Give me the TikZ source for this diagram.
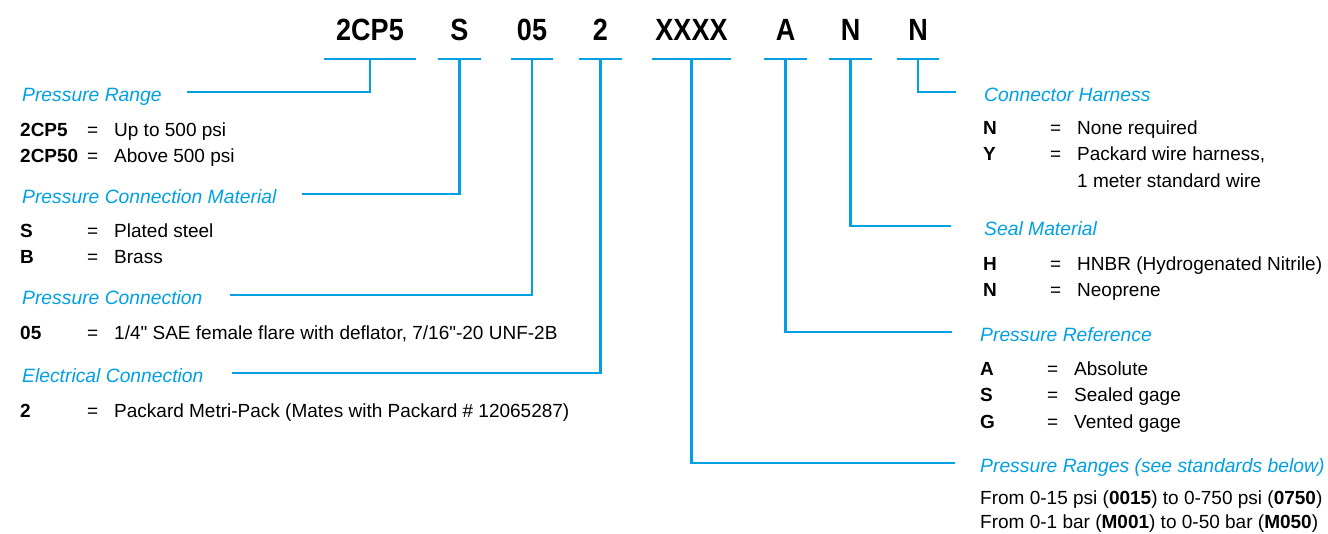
\documentclass[tikz,border=0pt]{standalone}
\usepackage{fontspec}
\setmainfont{Liberation Sans}[Ligatures=TeXOff]
\newfontfamily\codefont[FakeStretch=0.88]{Liberation Sans}
\usetikzlibrary{positioning}
\definecolor{legblue}{RGB}{0,160,227}
\newcommand{\opttab}[1]{\begin{tabular}[t]{@{}p{67pt}@{}p{27pt}@{}l@{}}#1\end{tabular}}

\begin{document}
\begin{tikzpicture}[
    x=1pt, y=-1pt,
    code/.style={
        font=\codefont\bfseries\fontsize{30.7}{36}\selectfont,
        inner sep=0,
        text height=22pt,
        text depth=19pt,
        anchor=base
    },
    head/.style={
        font=\fontsize{19.3}{23}\selectfont\itshape,
        text=legblue,
        inner sep=0,
        text height=18pt,
        text depth=0pt,
        anchor=base west
    },
    opts/.style={
        font=\fontsize{19}{26.5}\selectfont,
        inner sep=0,
        anchor=base west
    },
    lead/.style={draw=legblue, line width=2.4pt}
]
\useasboundingbox (0,0) rectangle (1328,533);

% Part number
\node (c1) [code, minimum width=92pt] at (370,40) {2CP5};
\node (c2) [code, minimum width=43pt] at (459.5,40) {S};
\node (c3) [code, minimum width=42pt] at (532,40) {05};
\node (c4) [code, minimum width=43pt] at (600.5,40) {2};
\node (c5) [code, minimum width=79pt] at (691.5,40) {XXXX};
\node (c6) [code, minimum width=43pt] at (785.5,40) {A};
\node (c7) [code, minimum width=43pt] at (850.5,40) {N};
\node (c8) [code, minimum width=42pt] at (918,40) {N};

% Left column
\node (h1) [head] at (22,101) {Pressure Range};
\node (o1) [opts] at (20,136) {\opttab{\textbf{2CP5} & = & Up to 500 psi\\ \textbf{2CP50} & = & Above 500 psi}};

\node (h2) [head] at (22,203) {Pressure Connection Material};
\node (o2) [opts] at (20,237) {\opttab{\textbf{S} & = & Plated steel\\ \textbf{B} & = & Brass}};

\node (h3) [head] at (22,304) {Pressure Connection};
\node (o3) [opts] at (20,339) {\opttab{\textbf{05} & = & 1/4" SAE female flare with deflator, 7/16"-20 UNF-2B}};

\node (h4) [head] at (22,382) {Electrical Connection};
\node (o4) [opts] at (20,417) {\opttab{\textbf{2} & = & Packard Metri-Pack (Mates with Packard \# 12065287)}};

% Right column
\node (h5) [head] at (984,101) {Connector Harness};
\node (o5) [opts] at (983,134) {\opttab{\textbf{N} & = & None required\\ \textbf{Y} & = & Packard wire harness,\\ & & 1 meter standard wire}};

\node (h6) [head] at (984,235) {Seal Material};
\node (o6) [opts] at (983,270) {\opttab{\textbf{H} & = & HNBR (Hydrogenated Nitrile)\\ \textbf{N} & = & Neoprene}};

\node (h7) [head] at (980,341) {Pressure Reference};
\node (o7) [opts] at (980,375) {\opttab{\textbf{A} & = & Absolute\\ \textbf{S} & = & Sealed gage\\ \textbf{G} & = & Vented gage}};

\node (h8) [head] at (980,472) {Pressure Ranges (see standards below)};
\node (o8) [opts, font=\fontsize{19}{24}\selectfont] at (980,504) {\begin{tabular}[t]{@{}l@{}}From 0-15 psi (\textbf{0015}) to 0-750 psi (\textbf{0750})\\ From 0-1 bar (\textbf{M001}) to 0-50 bar (\textbf{M050})\end{tabular}};

% Underlines
\draw [lead] (c1.south west) -- (c1.south east);
\draw [lead] (c2.south west) -- (c2.south east);
\draw [lead] (c3.south west) -- (c3.south east);
\draw [lead] (c4.south west) -- (c4.south east);
\draw [lead] (c5.south west) -- (c5.south east);
\draw [lead] (c6.south west) -- (c6.south east);
\draw [lead] (c7.south west) -- (c7.south east);
\draw [lead] (c8.south west) -- (c8.south east);

% Leaders
\draw [lead, shorten <=25pt] (h1.east) -| (c1.south);
\draw [lead, shorten <=25pt] (h2.east) -| (c2.south);
\draw [lead, shorten <=27pt] (h3.east) -| (c3.south);
\draw [lead, shorten <=28pt] (h4.east) -| (c4.south);
\draw [lead, shorten >=28pt] (c8.south) |- (h5.west);
\draw [lead, shorten >=33pt] (c7.south) |- (h6.west);
\draw [lead, shorten >=28pt] (c6.south) |- (h7.west);
\draw [lead, shorten >=25pt] (c5.south) |- (h8.west);

\end{tikzpicture}
\end{document}
